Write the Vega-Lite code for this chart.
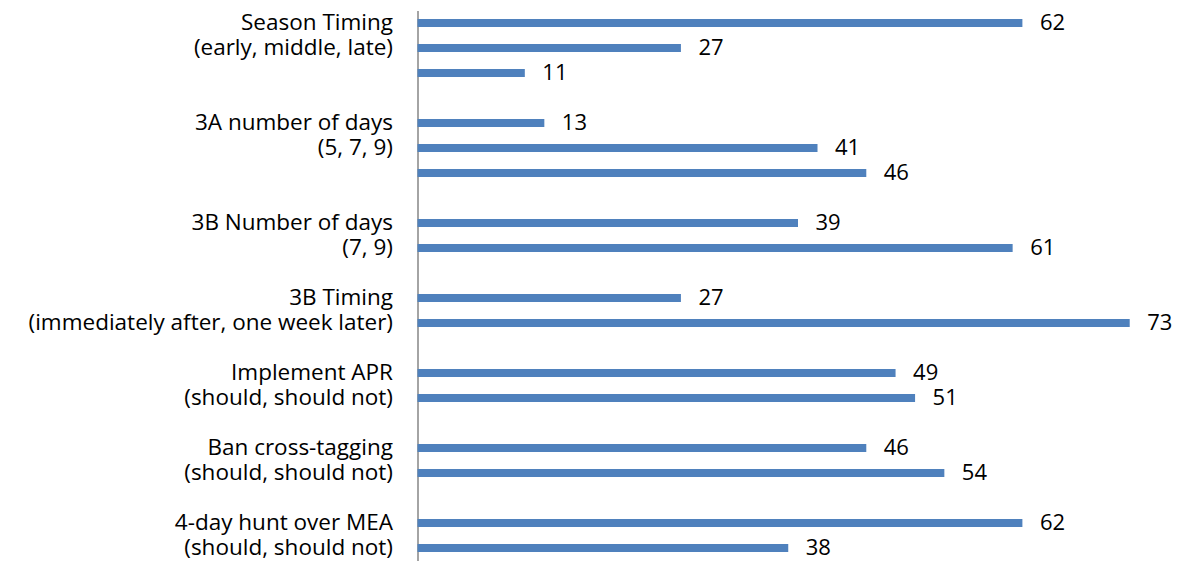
{
  "$schema": "https://vega.github.io/schema/vega-lite/v6.json",
  "width": 761,
  "height": 550,
  "autosize": {"type": "none"},
  "padding": {"left": 417.5, "top": 10.5, "right": 0, "bottom": 0},
  "background": "white",
  "config": {"view": {"stroke": null}, "font": "Open Sans"},
  "data": {
    "values": [
      {"row": "r01", "question": "Season Timing", "option": "early", "value": 62},
      {"row": "r02", "question": "Season Timing", "option": "middle", "value": 27},
      {"row": "r03", "question": "Season Timing", "option": "late", "value": 11},
      {"row": "r05", "question": "3A number of days", "option": "5", "value": 13},
      {"row": "r06", "question": "3A number of days", "option": "7", "value": 41},
      {"row": "r07", "question": "3A number of days", "option": "9", "value": 46},
      {"row": "r09", "question": "3B Number of days", "option": "7", "value": 39},
      {"row": "r10", "question": "3B Number of days", "option": "9", "value": 61},
      {"row": "r12", "question": "3B Timing", "option": "immediately after", "value": 27},
      {"row": "r13", "question": "3B Timing", "option": "one week later", "value": 73},
      {"row": "r15", "question": "Implement APR", "option": "should", "value": 49},
      {"row": "r16", "question": "Implement APR", "option": "should not", "value": 51},
      {"row": "r18", "question": "Ban cross-tagging", "option": "should", "value": 46},
      {"row": "r19", "question": "Ban cross-tagging", "option": "should not", "value": 54},
      {"row": "r21", "question": "4-day hunt over MEA", "option": "should", "value": 62},
      {"row": "r22", "question": "4-day hunt over MEA", "option": "should not", "value": 38}
    ]
  },
  "encoding": {
    "y": {
      "field": "row",
      "type": "nominal",
      "scale": {
        "domain": ["r01","r02","r03","r04","r05","r06","r07","r08","r09","r10","r11","r12","r13","r14","r15","r16","r17","r18","r19","r20","r21","r22"],
        "paddingInner": 0.68,
        "paddingOuter": 0.34
      },
      "axis": {
        "title": null,
        "ticks": false,
        "grid": false,
        "domainColor": "#868686",
        "domainWidth": 1.5,
        "labelFont": "Open Sans",
        "labelFontSize": 22.5,
        "labelColor": "black",
        "labelPadding": 25,
        "labelLimit": 600,
        "labelExpr": "({'r01':'Season Timing','r02':'(early, middle, late)','r05':'3A number of days','r06':'(5, 7, 9)','r09':'3B Number of days','r10':'(7, 9)','r12':'3B Timing','r13':'(immediately after, one week later)','r15':'Implement APR','r16':'(should, should not)','r18':'Ban cross-tagging','r19':'(should, should not)','r21':'4-day hunt over MEA','r22':'(should, should not)'})[datum.value] || ''"
      }
    },
    "x": {
      "field": "value",
      "type": "quantitative",
      "scale": {"domain": [0, 78]},
      "axis": null
    }
  },
  "layer": [
    {"mark": {"type": "bar", "color": "#4F81BD"}},
    {
      "mark": {"type": "text", "align": "left", "baseline": "middle", "dx": 17.5, "fontSize": 22, "font": "Open Sans", "color": "black"},
      "encoding": {"text": {"field": "value", "type": "quantitative"}}
    }
  ]
}
